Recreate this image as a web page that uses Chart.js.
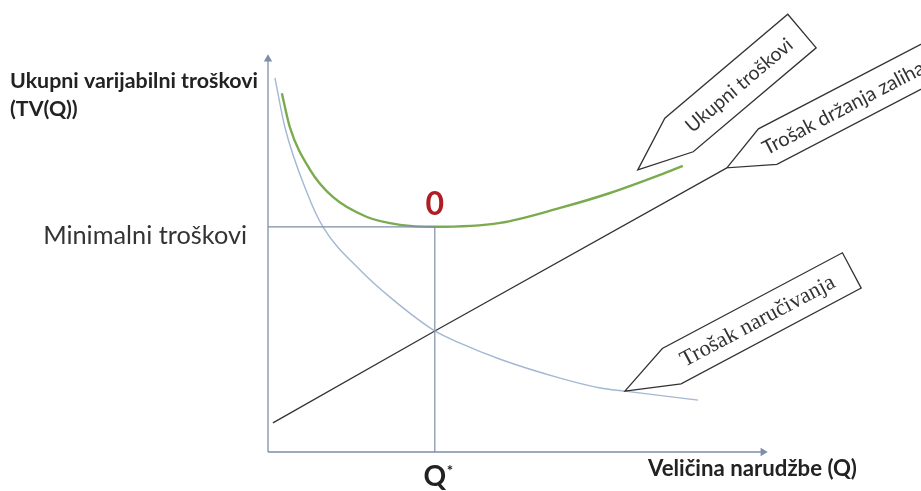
<!DOCTYPE html>
<html>
<head>
<meta charset="utf-8">
<title>Ukupni varijabilni troškovi</title>
<script src="https://cdn.jsdelivr.net/npm/chart.js@4.4.1/dist/chart.umd.min.js"></script>
<style>
  html, body { margin: 0; padding: 0; background: #ffffff; }
  #chart { display: block; }
</style>
</head>
<body>
<canvas id="chart" width="921" height="491"></canvas>
<script>
// values, axes run 0..100 on both sides
const orderQ = [1.4, 3.4, 7.9, 11.1, 18.6, 25.3, 33.7, 38.8, 46.9, 59.0, 67.1, 72.1, 86.9];
const orderCost = [95.2, 82.7, 65.9, 57.3, 46.3, 38.7, 30.8, 27.7, 23.6, 18.8, 16.3, 15.5, 13.2];

const holdQ = [1.0, 33.7, 92.7];
const holdCost = [7.4, 30.8, 72.3];

const totalQ = [2.8, 4.4, 8.5, 13.1, 20.0, 26.7, 33.7, 46.9, 59.0, 69.1, 79.2, 83.8];
const totalCost = [91.3, 82.7, 71.8, 64.9, 59.8, 57.8, 57.3, 58.3, 62.1, 65.9, 70.5, 72.8];

const qStar = 33.7;
const minCost = 57.3;
const axisMax = 100;

const yTitle = ["Ukupni varijabilni troškovi", "(TV(Q))"];
const xTitle = "Veličina narudžbe (Q)";
const minLabel = "Minimalni troškovi";
const optLabel = "0";

const toPoints = (xs, ys) => xs.map((x, i) => ({ x: x, y: ys[i] }));

const AXIS = "#7d8ea8";
const SANS = "Lato, 'Open Sans', sans-serif";
const SERIF = "'Liberation Serif', 'DejaVu Serif', serif";

// callouts: tip sits on a data point, the rest is drawn around it
const callouts = [
  { text: "Ukupni troškovi", at: [74.7, 71.8], angle: -40.2, tipLen: 54, width: 44, bodyLen: 161, textAt: 78, textWidth: 134, font: SANS },
  { text: "Trošak držanja zaliha", at: [holdQ[2], holdCost[2]], angle: -27.5, tipLen: 46, width: 40, bodyLen: 260, textAt: 85, textWidth: 180, font: SANS },
  { text: "Trošak naručivanja", at: [orderQ[11], orderCost[11]], angle: -28, tipLen: 53, width: 40, bodyLen: 204, textAt: 97, textWidth: 172, font: SERIF },
];

const fitFont = (ctx, text, weight, family, width) => {
  ctx.font = `${weight} 100px ${family}`;
  const size = (100 * width) / ctx.measureText(text).width;
  ctx.font = `${weight} ${size}px ${family}`;
  return size;
};

const drawCallout = (ctx, c, chart) => {
  const tx = chart.scales.x.getPixelForValue(c.at[0]);
  const ty = chart.scales.y.getPixelForValue(c.at[1]);
  const a = (c.angle * Math.PI) / 180;
  const ux = Math.cos(a), uy = Math.sin(a);
  const nx = -uy, ny = ux;
  const bx = tx + ux * c.tipLen, by = ty + uy * c.tipLen;
  const h = c.width / 2;

  ctx.save();
  ctx.beginPath();
  ctx.moveTo(tx, ty);
  ctx.lineTo(bx - nx * h, by - ny * h);
  ctx.lineTo(bx - nx * h + ux * c.bodyLen, by - ny * h + uy * c.bodyLen);
  ctx.lineTo(bx + nx * h + ux * c.bodyLen, by + ny * h + uy * c.bodyLen);
  ctx.lineTo(bx + nx * h, by + ny * h);
  ctx.closePath();
  ctx.fillStyle = "#ffffff";
  ctx.fill();
  ctx.lineWidth = 1.3;
  ctx.strokeStyle = "#333333";
  ctx.stroke();

  ctx.translate(bx + ux * c.textAt, by + uy * c.textAt);
  ctx.rotate(a);
  fitFont(ctx, c.text, "normal", c.font, c.textWidth);
  ctx.fillStyle = "#333333";
  ctx.textAlign = "center";
  ctx.textBaseline = "middle";
  ctx.fillText(c.text, 0, 1);
  ctx.restore();
};

const labelsPlugin = {
  id: "labels",
  afterDatasetsDraw(chart) {
    const ctx = chart.ctx;
    const xs = chart.scales.x;
    const ys = chart.scales.y;
    const qPx = xs.getPixelForValue(qStar);
    const minPx = ys.getPixelForValue(minCost);

    callouts.forEach((c) => drawCallout(ctx, c, chart));

    ctx.save();
    ctx.fillStyle = "#222222";
    ctx.textBaseline = "alphabetic";

    // y axis title, top left
    ctx.textAlign = "left";
    fitFont(ctx, yTitle[0], "bold", SANS, 248);
    ctx.fillText(yTitle[0], 10, 88);
    ctx.fillText(yTitle[1], 10, 116);

    // minimum level label
    ctx.textAlign = "right";
    fitFont(ctx, minLabel, "normal", SANS, 204);
    ctx.fillStyle = "#333333";
    ctx.fillText(minLabel, xs.left - 21, minPx + 17);

    // optimum marker
    ctx.textAlign = "center";
    ctx.fillStyle = "#b01c24";
    ctx.font = `bold 32px ${SANS}`;
    ctx.fillText(optLabel, qPx, minPx - 12);

    // Q*
    ctx.fillStyle = "#222222";
    ctx.font = `bold 28px ${SANS}`;
    ctx.fillText("Q", qPx, ys.bottom + 34);
    ctx.font = `bold 15px ${SANS}`;
    ctx.fillText("*", qPx + 15, ys.bottom + 24);

    // x axis title
    ctx.textAlign = "left";
    fitFont(ctx, xTitle, "bold", SANS, 209);
    ctx.fillText(xTitle, 648, ys.bottom + 24);
    ctx.restore();
  },
};

const lineSet = (data, color, width, extra) =>
  Object.assign(
    {
      data: data,
      showLine: true,
      borderColor: color,
      backgroundColor: color,
      borderWidth: width,
      pointRadius: 0,
      clip: false,
    },
    extra || {}
  );

window.onload = () => {
  const config = {
    type: "scatter",
    data: {
      datasets: [
        lineSet(toPoints([0, qStar], [minCost, minCost]), AXIS, 1.2),
        lineSet(toPoints([qStar, qStar], [0, minCost]), AXIS, 1.2),
        lineSet(toPoints([0, axisMax], [0, 0]), AXIS, 1.3, {
          pointRadius: [0, 3.5], pointStyle: "triangle", pointRotation: [0, 90],
        }),
        lineSet(toPoints([0, 0], [0, axisMax]), AXIS, 1.3, {
          pointRadius: [0, 3.5], pointStyle: "triangle", pointRotation: [0, 0],
        }),
        lineSet(toPoints(orderQ, orderCost), "#a3b8d2", 1.4, { cubicInterpolationMode: "monotone" }),
        lineSet(toPoints(holdQ, holdCost), "#333333", 1.3),
        lineSet(toPoints(totalQ, totalCost), "#7aab4f", 2.4, { cubicInterpolationMode: "monotone" }),
      ],
    },
    options: {
      responsive: false,
      animation: false,
      layout: { padding: { left: 268, right: 158, top: 59, bottom: 39 } },
      scales: {
        x: { type: "linear", min: 0, max: axisMax, display: false },
        y: { type: "linear", min: 0, max: axisMax, display: false },
      },
      plugins: { legend: { display: false }, tooltip: { enabled: false } },
    },
    plugins: [labelsPlugin],
  };
  new Chart(document.getElementById("chart"), config);
};
</script>
</body>
</html>
